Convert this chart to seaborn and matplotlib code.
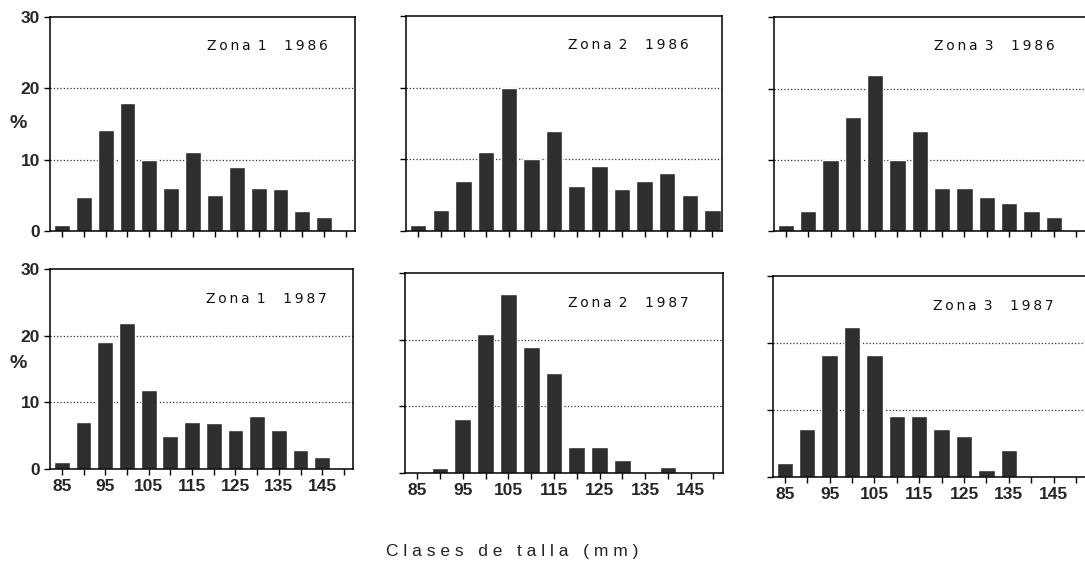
import numpy as np
import pandas as pd
import matplotlib
matplotlib.use("Agg")
import matplotlib.pyplot as plt
import seaborn as sns

# size classes (mm)
classes = [85, 90, 95, 100, 105, 110, 115, 120, 125, 130, 135, 140, 145, 150]

# % of individuals per size class
zona1_1986 = [0.8, 4.8, 14.1, 17.9, 10.0, 6.0, 11.0, 5.0, 8.9, 6.0, 5.8, 2.8, 2.0, 0]
zona2_1986 = [0.8, 2.9, 7.0, 11.0, 20.0, 10.1, 14.0, 6.2, 9.1, 5.8, 6.9, 8.1, 5.0, 2.9]
zona3_1986 = [0.8, 2.8, 10.0, 16.0, 21.9, 10.0, 14.0, 6.0, 6.0, 4.8, 3.9, 2.8, 1.9, 0]
zona1_1987 = [1.0, 7.0, 19.0, 21.9, 11.9, 5.0, 7.0, 6.9, 5.9, 7.9, 5.8, 2.9, 1.8, 0]
zona2_1987 = [0, 0.8, 8.1, 20.9, 26.8, 18.9, 15.0, 3.9, 3.9, 2.0, 0, 0.9, 0, 0]
zona3_1987 = [2.1, 7.2, 18.2, 22.4, 18.2, 9.1, 9.1, 7.1, 6.1, 1.0, 4.0, 0, 0, 0]

zonas = ["1", "2", "3", "1", "2", "3"]
years = ["1986", "1986", "1986", "1987", "1987", "1987"]
series = [zona1_1986, zona2_1986, zona3_1986, zona1_1987, zona2_1987, zona3_1987]

# axes boxes in figure fractions [left, bottom, width, height]
boxes = [
    [0.046, 0.590, 0.281, 0.380],
    [0.374, 0.590, 0.291, 0.381],
    [0.713, 0.590, 0.287, 0.379],
    [0.046, 0.167, 0.279, 0.355],
    [0.373, 0.160, 0.293, 0.355],
    [0.712, 0.153, 0.288, 0.356],
]


def spaced(s):
    # typewriter-like letter spacing with thin spaces
    return "\u2009".join(s)


sns.set_style("white")
plt.rcParams['font.family'] = ['Liberation Sans', 'DejaVu Sans']

bar_color = "#2e2e2e"
fig = plt.figure(figsize=(10.85, 5.63), dpi=100)

for i, (zona, year, values, box) in enumerate(zip(zonas, years, series, boxes)):
    ax = fig.add_axes(box)
    df = pd.DataFrame({"clase": [str(c) for c in classes], "pct": values})
    sns.barplot(data=df, x="clase", y="pct", order=df["clase"], color=bar_color,
                saturation=1, width=0.73, ax=ax)

    ax.set_xlim(-0.55, 13.4)
    ax.set_ylim(0, 30)
    ax.set_yticks([0, 10, 20, 30])
    for yv in [10, 20]:
        ax.axhline(yv, color="#333333", linestyle=":", linewidth=0.9, zorder=0)

    for side, sp in ax.spines.items():
        sp.set_color("black")
        sp.set_linewidth(1.1)
    if i % 3 == 2:
        ax.spines["right"].set_visible(False)

    ax.tick_params(axis="both", direction="out", length=4, width=1, color="black",
                   bottom=True, left=True, labelsize=12.5, pad=3)
    ax.set_xticks(range(len(classes)))
    row = i // 3
    if row == 1:
        ax.set_xticklabels([str(c) if k % 2 == 0 else "" for k, c in enumerate(classes)],
                           fontweight="bold")
    else:
        ax.set_xticklabels([])
    ax.set_xlabel("")

    if i % 3 == 0:
        ax.set_yticklabels(["0", "10", "20", "30"], fontweight="bold")
        ax.set_ylabel("%", rotation=0, fontsize=14, fontweight="bold", ha="center", va="center")
        ax.yaxis.set_label_coords(-0.105, 0.50 if row == 0 else 0.53)
    else:
        ax.set_yticklabels([])
        ax.set_ylabel("")

    label = spaced("Zona") + "\u2009 " + zona + "    " + spaced(year)
    ax.text(0.515, 0.865 if row == 0 else 0.85, label, transform=ax.transAxes,
            fontsize=10, family="DejaVu Sans", ha="left", va="center", color="#111111")

fig.text(0.472, 0.021, "C l a s e s   d e   t a l l a   ( m m )", ha="center", va="center",
         fontsize=12.5, color="#222222")

fig.savefig("out.png", dpi=100)
plt.close(fig)
